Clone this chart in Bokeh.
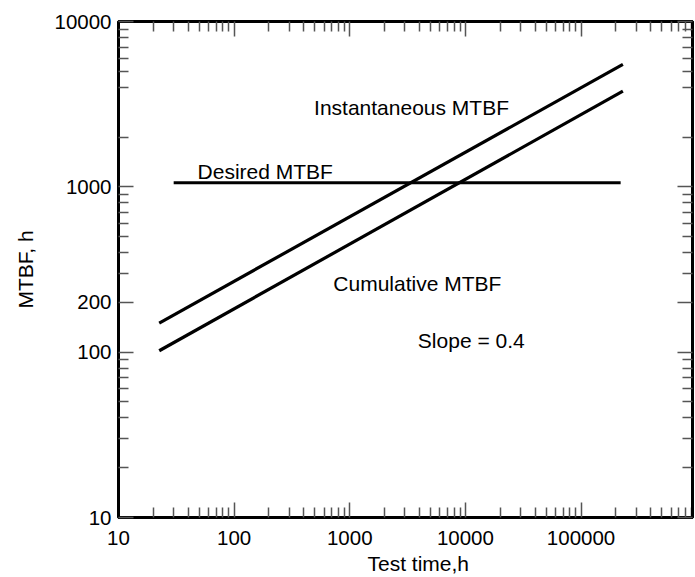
from bokeh.plotting import figure
from bokeh.models import FixedTicker, LogAxis, Title, ColumnDataSource
from bokeh.embed import file_html
from bokeh.resources import INLINE
from bokeh.core.properties import value

FONT = "Liberation Sans"

# ---- data ----
x_ticks = [10, 100, 1000, 10000, 100000]
x_tick_labels = ["10", "100", "1000", "10000", "100000"]
y_ticks = [10, 100, 200, 1000, 10000]
y_tick_labels = ["10", "100", "200", "1000", "10000"]
x_minor = [m * 10 ** e for e in range(1, 6) for m in range(2, 10)]
y_minor = [m * 10 ** e for e in range(1, 4) for m in range(2, 10)
           if m * 10 ** e not in (200, 3000)]

test_time = [22.5, 230000]
cumulative_mtbf = [102, 3790]
instantaneous_mtbf = [150, 5500]
desired_time = [30, 220000]
desired_mtbf = [1060, 1060]

label_text = ["Instantaneous MTBF", "Desired MTBF", "Cumulative MTBF", "Slope = 0.4"]
label_x = [491, 48.3, 721, 3880]
label_y = [3035, 1245, 259, 118]

p = figure(x_axis_type="log", y_axis_type="log",
           x_range=(10, 920000), y_range=(10, 10000),
           frame_width=574, frame_height=496,
           min_border_left=118, min_border_right=2,
           min_border_top=21, min_border_bottom=0,
           output_backend="svg", toolbar_location=None)
p.background_fill_color = "white"
p.border_fill_color = "white"
p.grid.visible = False
p.outline_line_color = "black"
p.outline_line_width = 3


def style_axis(ax, ticks, minor, labels, show_labels):
    ax.ticker = FixedTicker(ticks=ticks, minor_ticks=minor)
    ax.axis_line_color = "black"
    ax.axis_line_width = 3
    ax.major_tick_in = 15
    ax.major_tick_out = 0
    ax.minor_tick_in = 10
    ax.minor_tick_out = 0
    ax.major_tick_line_color = "#555555"
    ax.major_tick_line_width = 1.5
    ax.minor_tick_line_color = "#555555"
    ax.minor_tick_line_width = 1.5
    if show_labels:
        ax.major_label_overrides = dict(zip(ticks, labels))
        ax.major_label_text_font = FONT
        ax.major_label_text_font_size = "20.5px"
        ax.major_label_text_color = "black"
    else:
        ax.major_label_overrides = {t: "" for t in ticks}
        ax.major_label_text_font_size = "0px"
        ax.major_label_text_color = None
        ax.major_label_standoff = 0


style_axis(p.xaxis[0], x_ticks, x_minor, x_tick_labels, True)
style_axis(p.yaxis[0], y_ticks, y_minor, y_tick_labels, True)
p.xaxis[0].major_label_standoff = 13
p.yaxis[0].major_label_standoff = 7

top = LogAxis()
style_axis(top, x_ticks, x_minor, x_tick_labels, False)
p.add_layout(top, "above")
right = LogAxis()
style_axis(right, y_ticks, y_minor, y_tick_labels, False)
p.add_layout(right, "right")

p.yaxis[0].axis_label = "MTBF, h"
p.yaxis[0].axis_label_text_font = FONT
p.yaxis[0].axis_label_text_font_size = "21px"
p.yaxis[0].axis_label_text_font_style = "normal"
p.yaxis[0].axis_label_text_color = "black"
p.yaxis[0].axis_label_standoff = 14

xlabel = Title(text="Test time,h", align="left", offset=249,
               text_font=FONT, text_font_size="21px",
               text_font_style="normal", text_color="black", standoff=4)
p.add_layout(xlabel, "below")

p.line(test_time, instantaneous_mtbf, line_color="black", line_width=3.2)
p.line(test_time, cumulative_mtbf, line_color="black", line_width=3.2)
p.line(desired_time, desired_mtbf, line_color="black", line_width=3)

src = ColumnDataSource(dict(x=label_x, y=label_y, t=label_text))
p.text(x="x", y="y", text="t", source=src, text_font=value(FONT),
       text_font_size="21px", text_color="black",
       text_align="left", text_baseline="alphabetic")

open("out.html", "w").write(file_html(p, INLINE))
